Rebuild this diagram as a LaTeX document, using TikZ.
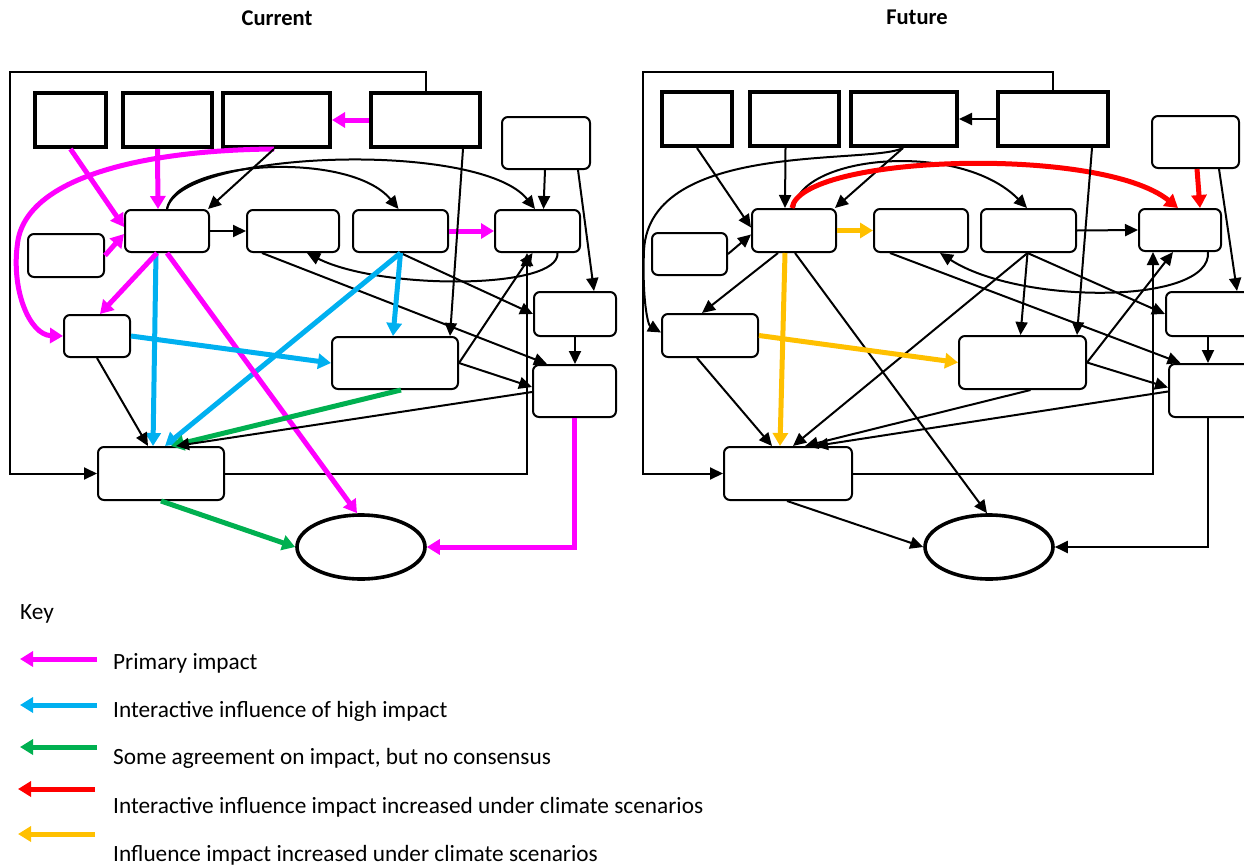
\documentclass[tikz,border=0pt]{standalone}
\usepackage{fontspec}
\setmainfont{Carlito}
\usetikzlibrary{arrows.meta,shapes.geometric}
\definecolor{primary}{HTML}{FF00FF}
\definecolor{highimp}{HTML}{00B0F0}
\definecolor{someagr}{HTML}{00B050}
\definecolor{incint}{HTML}{FF0000}
\definecolor{incinf}{HTML}{FFC000}
\tikzset{
  sqbox/.style={draw, line width=4pt, inner sep=0pt, fill=white},
  rbox/.style={draw, line width=2pt, rounded corners=6pt, inner sep=0pt, fill=white},
  ovl/.style={draw, ellipse, line width=3.6pt, inner sep=0pt, fill=white},
  ln/.style={line width=2pt, -{Triangle[length=13pt,width=12pt]}},
  hv/.style={line width=5pt, -{Triangle[length=13pt,width=15pt]}},
  txt/.style={inner sep=0pt, font=\fontsize{23.3}{28}\selectfont},
  ttl/.style={inner sep=0pt, font=\fontsize{22.5}{27}\selectfont\bfseries},
}
\begin{document}
\begin{tikzpicture}[x=1pt,y=-1pt]
\useasboundingbox (0,0) rectangle (1244,867);
\clip (0,0) rectangle (1244,867);

\node[ttl] (tcur) at (277,18) {Current};
\node[ttl] (tfut) at (917,17) {Future};

% ---------------- current ----------------
\node[sqbox, minimum width=71pt, minimum height=54pt] (aT1) at (70.5,120) {};
\node[sqbox, minimum width=89pt, minimum height=54pt] (aT2) at (167.5,120) {};
\node[sqbox, minimum width=107pt, minimum height=54pt] (aT3) at (276.5,120) {};
\node[sqbox, minimum width=109pt, minimum height=54pt] (aT4) at (425.5,120) {};
\node[rbox, minimum width=88pt, minimum height=52pt] (aR0) at (546,143) {};
\node[rbox, minimum width=76pt, minimum height=43pt] (aC0) at (66,255.5) {};
\node[rbox, minimum width=84pt, minimum height=42pt] (aC1) at (167,231) {};
\node[rbox, minimum width=92pt, minimum height=42pt] (aC2) at (293,231) {};
\node[rbox, minimum width=95pt, minimum height=42pt] (aC3) at (400.5,231) {};
\node[rbox, minimum width=85pt, minimum height=42pt] (aC4) at (537.5,231) {};
\node[rbox, minimum width=66pt, minimum height=42pt] (aL1) at (97,336) {};
\node[rbox, minimum width=126pt, minimum height=52pt] (aM) at (395,363) {};
\node[rbox, minimum width=82pt, minimum height=44pt] (aR6) at (575,314) {};
\node[rbox, minimum width=83pt, minimum height=52pt] (aR7) at (574.5,391) {};
\node[rbox, minimum width=126pt, minimum height=53pt] (aB) at (161,473.5) {};
\node[ovl, minimum width=128pt, minimum height=64pt] (aE) at (361,547) {};

\coordinate (aTL) at (10,72);
\coordinate (aBL) at (10,473.5);
\draw[ln] (aT4.north) |- (aTL) -- (aBL) -- (aB.west);
\draw[ln] (aB.east) -| ([xshift=-10.5pt]aC4.south);

\draw[hv, primary] (aT4.west) -- (aT3.east);
\draw[hv, primary] (aT1.south) -- ([yshift=4pt]aC1.west);
\draw[hv, primary] ([xshift=-10pt]aT2.south) -- ([xshift=-9pt]aC1.north);
\draw[hv, primary] (aC0.east) -- ([yshift=-3pt]aC1.west);
\draw[hv, primary] ([xshift=-2.5pt]aT3.south) .. controls (150,150) and (30,175) .. (18,240)
   .. controls (10,290) and (30,335) .. (aL1.west);
\draw[ln] ([xshift=-2.5pt]aT3.south) -- ([xshift=-2pt]aC1.north east);
\draw[ln] (aC1.east) -- (aC2.west);
\draw[ln] (aC1.north) .. controls (175,160) and (350,150) .. ([xshift=-2pt]aC3.north);
\draw[ln] (aC1.north) .. controls (180,150) and (480,140) .. ([xshift=-2.5pt]aC4.north);
\draw[ln] ([xshift=-31pt]aC2.south) -- ([xshift=-27.5pt]aR7.north);
\draw[ln] ([xshift=20pt]aC4.south) .. controls (560,290) and (380,290) .. ([xshift=14pt]aC2.south);
\draw[hv, primary] (aC3.east) -- (aC4.west);
\draw[ln] (aC3.south) -- (aR6.west);
\draw[hv, highimp] (aC3.south) -- ([xshift=-2pt]aM.north);
\draw[hv, highimp] (aC3.south) -- ([xshift=4pt]aB.north);
\draw[hv, highimp] ([xshift=-11pt]aC1.south) -- ([xshift=-8pt]aB.north);
\draw[hv, primary] ([xshift=-10pt]aC1.south) -- ([xshift=3pt]aL1.north);
\draw[hv, primary] (aC1.south) -- ([xshift=-4pt]aE.north);
\draw[hv, highimp] (aL1.east) -- (aM.west);
\draw[ln] (aL1.south) -- ([xshift=-13pt]aB.north);
\draw[hv, someagr] ([xshift=6pt]aM.south) -- ([xshift=10pt]aB.north);
\draw[ln] ([yshift=-1pt]aR7.west) -- ([xshift=15pt]aB.north);
\draw[hv, someagr] (aB.south) -- (aE.west);
\draw[hv, primary] (aR7.south) |- (aE.east);
\draw[ln] ([xshift=37.5pt]aT4.south) -- ([xshift=55pt]aM.north);
\draw[ln] (aM.east) -- ([xshift=-5pt]aC4.south);
\draw[ln] (aM.east) -- ([yshift=4pt]aR7.west);
\draw[ln] ([xshift=-1pt]aR0.south) -- ([xshift=6pt]aC4.north);
\draw[ln] ([xshift=32pt]aR0.south) -- ([xshift=19pt]aR6.north);
\draw[ln] (aR6.south) -- (aR6.south |- aR7.north);

% ---------------- future ----------------
\node[sqbox, minimum width=70pt, minimum height=54pt] (bT1) at (697,119) {};
\node[sqbox, minimum width=89pt, minimum height=54pt] (bT2) at (794.5,119) {};
\node[sqbox, minimum width=106pt, minimum height=54pt] (bT3) at (904,119) {};
\node[sqbox, minimum width=110pt, minimum height=54pt] (bT4) at (1053,119) {};
\node[rbox, minimum width=87pt, minimum height=52pt] (bR0) at (1195.5,142) {};
\node[rbox, minimum width=75pt, minimum height=42pt] (bC0) at (689.5,254) {};
\node[rbox, minimum width=84pt, minimum height=43pt] (bC1) at (794,230.5) {};
\node[rbox, minimum width=94pt, minimum height=43pt] (bC2) at (921,230.5) {};
\node[rbox, minimum width=95pt, minimum height=43pt] (bC3) at (1028.5,230.5) {};
\node[rbox, minimum width=82pt, minimum height=42pt] (bC4) at (1180,230) {};
\node[rbox, minimum width=96pt, minimum height=43pt] (bL1) at (710,335.5) {};
\node[rbox, minimum width=127pt, minimum height=53pt] (bM) at (1022.5,362.5) {};
\node[rbox, minimum width=84pt, minimum height=44pt] (bR6) at (1208,314) {};
\node[rbox, minimum width=81pt, minimum height=53pt] (bR7) at (1209.5,390.5) {};
\node[rbox, minimum width=128pt, minimum height=53pt] (bB) at (788,473.5) {};
\node[ovl, minimum width=128pt, minimum height=64pt] (bE) at (989,547) {};

\coordinate (bTL) at (643,72);
\coordinate (bBL) at (643,473.5);
\draw[ln] (bT4.north) |- (bTL) -- (bBL) -- (bB.west);
\draw[ln] (bB.east) -| ([xshift=-27pt]bC4.south);

\draw[ln] (bT4.west) -- (bT3.east);
\draw[ln] (bT1.south) -- ([yshift=3pt]bC1.west);
\draw[ln] ([xshift=-9pt]bT2.south) -- ([xshift=-9pt]bC1.north);
\draw[ln] (bC0.east) -- ([yshift=-4pt]bC1.west);
\draw[ln] ([xshift=-1pt]bT3.south) .. controls (870,165) and (650,140) .. (644,250)
   .. controls (642,300) and (648,325) .. ([yshift=3pt]bL1.west);
\draw[ln] ([xshift=-1pt]bT3.south) -- ([xshift=-2pt]bC1.north east);
\draw[hv, incinf] (bC1.east) -- (bC2.west);
\draw[ln] (bC1.north) .. controls (800,155) and (960,140) .. ([xshift=-1.5pt]bC3.north);
\draw[hv, incint] ([xshift=-2pt]bC1.north) .. controls (800,155) and (1100,145) .. ([xshift=-2pt]bC4.north);
\draw[ln] ([xshift=-31pt]bC2.south) -- ([xshift=-29pt]bR7.north);
\draw[ln] ([xshift=28pt]bC4.south) .. controls (1212,305) and (1020,305) .. ([xshift=19pt]bC2.south);
\draw[ln] (bC3.east) -- (bC4.west);
\draw[ln] ([xshift=-1pt]bC3.south) -- ([xshift=-2pt]bM.north);
\draw[ln] ([xshift=-1pt]bC3.south) -- (bR6.west);
\draw[ln] ([xshift=-1pt]bC3.south) -- ([xshift=5pt]bB.north);
\draw[hv, incinf] ([xshift=-9pt]bC1.south) -- ([xshift=-8pt]bB.north);
\draw[ln] ([xshift=-16pt]bC1.south) -- ([xshift=-8pt]bL1.north);
\draw[ln] ([xshift=1pt]bC1.south) -- ([xshift=-2pt]bE.north);
\draw[hv, incinf] (bL1.east) -- (bM.west);
\draw[ln] ([xshift=-13pt]bL1.south) -- ([xshift=-16pt]bB.north);
\draw[ln] ([xshift=8pt]bM.south) -- ([xshift=17pt]bB.north);
\draw[ln] ([yshift=-1pt]bR7.west) -- ([xshift=27pt]bB.north);
\draw[ln] ([xshift=-1pt]bB.south) -- (bE.west);
\draw[ln] ([xshift=-1.5pt]bR7.south) |- (bE.east);
\draw[ln] ([xshift=39pt]bT4.south) -- ([xshift=54.5pt]bM.north);
\draw[ln] (bM.east) -- ([xshift=-7pt]bC4.south);
\draw[ln] (bM.east) -- ([yshift=3pt]bR7.west);
\draw[hv, incint] ([xshift=1.5pt]bR0.south) -- ([xshift=20pt]bC4.north);
\draw[ln] ([xshift=23.5pt]bR0.south) -- ([xshift=29pt]bR6.north);
\draw[ln] (bR6.south) -- (bR6.south |- bR7.north);

% ---------------- key ----------------
\node[txt, anchor=west] (kkey) at (20,614) {Key};
\coordinate (k1a) at (97,659);  \coordinate (k1b) at (20,659);
\coordinate (k2a) at (97,705);  \coordinate (k2b) at (20,705);
\coordinate (k3a) at (97,747);  \coordinate (k3b) at (20,747);
\coordinate (k4a) at (95,789);  \coordinate (k4b) at (18,789);
\coordinate (k5a) at (95,834);  \coordinate (k5b) at (18,834);
\draw[hv, primary] (k1a) -- (k1b);
\draw[hv, highimp] (k2a) -- (k2b);
\draw[hv, someagr] (k3a) -- (k3b);
\draw[hv, incint] (k4a) -- (k4b);
\draw[hv, incinf] (k5a) -- (k5b);
\node[txt, anchor=west] (kt1) at (113,663) {Primary impact};
\node[txt, anchor=west] (kt2) at (113,711) {Interactive influence of high impact};
\node[txt, anchor=west] (kt3) at (113,758) {Some agreement on impact, but no consensus};
\node[txt, anchor=west] (kt4) at (113,807) {Interactive influence impact increased under climate scenarios};
\node[txt, anchor=west] (kt5) at (113,855) {Influence impact increased under climate scenarios};
\end{tikzpicture}
\end{document}
